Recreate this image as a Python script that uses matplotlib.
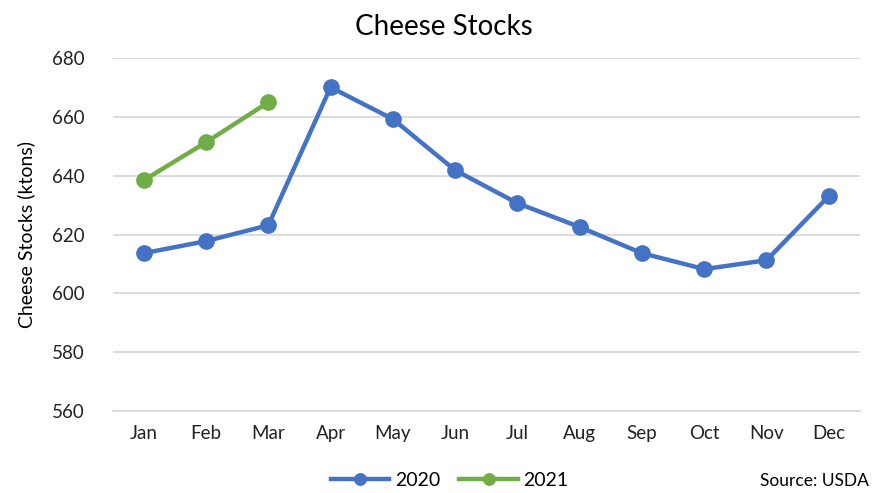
import numpy as np
import matplotlib.pyplot as plt

plt.rcParams['font.family'] = ['Lato', 'DejaVu Sans']

# Dados
meses = ['Jan', 'Feb', 'Mar', 'Apr', 'May', 'Jun', 'Jul', 'Aug', 'Sep', 'Oct', 'Nov', 'Dec']
stocks_2020 = [613.7, 617.8, 623.2, 670.1, 659.3, 641.9, 630.7, 622.6, 613.7, 608.3, 611.3, 633.1]
stocks_2021 = [638.5, 651.4, 665.0]

azul = '#4472C4'
verde = '#70AD47'

fig = plt.figure(figsize=(8.73, 4.93), dpi=100)
ax = fig.add_axes([0.129, 0.166, 0.856, 0.716])

x = np.arange(len(meses))
ax.plot(x, stocks_2020, color=azul, lw=3.2, marker='o', ms=11, label='2020')
ax.plot(x[:len(stocks_2021)], stocks_2021, color=verde, lw=3.2, marker='o', ms=11, label='2021')

ax.set_xlim(-0.5, len(meses) - 0.5)
ax.set_ylim(560, 680)
ax.set_yticks(np.arange(560, 681, 20))
ax.set_xticks(x)
ax.set_xticklabels(meses)
ax.tick_params(length=0, labelsize=13.5, colors='#222222')
ax.tick_params(axis='x', pad=10)
ax.tick_params(axis='y', pad=20)
ax.grid(axis='y', color='#d9d9d9', lw=1.3)
ax.set_axisbelow(True)
for s in ['top', 'right', 'left']:
    ax.spines[s].set_visible(False)
ax.spines['bottom'].set_color('#d9d9d9')
ax.spines['bottom'].set_linewidth(1.3)

ax.set_ylabel('Cheese Stocks (ktons)', fontsize=14, labelpad=12)
fig.text(0.508, 0.945, 'Cheese Stocks', ha='center', va='center', fontsize=20)

fig.legend(loc='center', bbox_to_anchor=(0.515, 0.025), ncol=2, frameon=False,
           fontsize=14, handlelength=3, columnspacing=1.0, handletextpad=0.3,
           markerscale=0.75)
fig.text(0.995, 0.025, 'Source: USDA', ha='right', va='center', fontsize=12.5)

plt.savefig('out.png', dpi=100)
